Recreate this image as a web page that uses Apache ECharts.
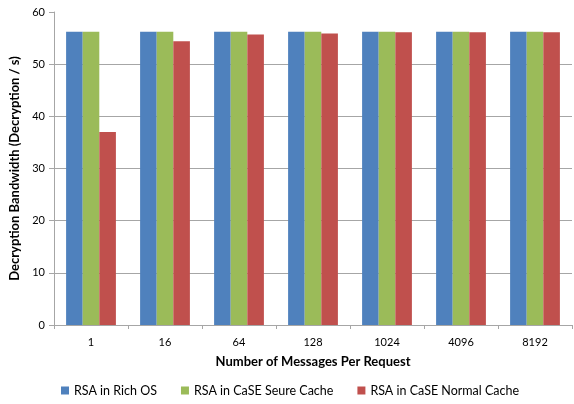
<!DOCTYPE html>
<html>
<head>
<meta charset="utf-8">
<script src="https://cdn.jsdelivr.net/npm/echarts@6/dist/echarts.min.js"></script>
<style>html,body{margin:0;padding:0;background:#fff;}#c{width:574px;height:404px;}</style>
</head>
<body>
<div id="c"></div>
<script>
const categories = ['1', '16', '64', '128', '1024', '4096', '8192'];
const richOS = [56.2, 56.2, 56.2, 56.2, 56.2, 56.2, 56.2];
const caseSecure = [56.2, 56.2, 56.2, 56.2, 56.2, 56.2, 56.2];
const caseNormal = [37.0, 54.4, 55.7, 55.9, 56.1, 56.1, 56.1];
const seriesNames = ['RSA in Rich OS', 'RSA in CaSE Seure Cache', 'RSA in CaSE Normal Cache'];
const yTicks = [0, 10, 20, 30, 40, 50, 60];

const font = 'Lato, "Open Sans", "Liberation Sans", sans-serif';
const chart = echarts.init(document.getElementById('c'));
const grid = '#a6a6a6';
chart.setOption({
  animation: false,
  textStyle: { fontFamily: font },
  grid: { left: 52, right: 2, top: 12, bottom: 79 },
  legend: {
    bottom: 2,
    left: 56,
    itemWidth: 8,
    itemHeight: 8,
    itemGap: 24,
    icon: 'rect',
    textStyle: { fontSize: 12.5, color: '#000', fontFamily: font },
    data: seriesNames
  },
  xAxis: {
    type: 'category',
    data: categories,
    name: 'Number of Messages Per Request',
    nameLocation: 'middle',
    nameGap: 30,
    nameTextStyle: { fontSize: 13, fontWeight: 'bold', color: '#000', fontFamily: font },
    axisLine: { lineStyle: { color: grid } },
    axisTick: { show: true, length: 4, lineStyle: { color: grid } },
    axisLabel: { fontSize: 11, color: '#000', margin: 12 }
  },
  yAxis: {
    type: 'value',
    min: 0,
    max: yTicks[yTicks.length - 1],
    interval: yTicks[1] - yTicks[0],
    name: 'Decryption Bandwidth (Decryption / s)',
    nameLocation: 'middle',
    nameGap: 33,
    nameTextStyle: { fontSize: 13, fontWeight: 'bold', color: '#000', fontFamily: font },
    axisLine: { show: true, lineStyle: { color: grid } },
    axisTick: { show: true, length: 5, lineStyle: { color: grid } },
    axisLabel: { fontSize: 11, color: '#000', margin: 9 },
    splitLine: { show: true, lineStyle: { color: [grid, grid, grid, grid, grid, grid, 'rgba(0,0,0,0)'], width: 1 } }
  },
  series: [
    { name: seriesNames[0], type: 'bar', data: richOS, barWidth: 16.6, barGap: '0%',
      itemStyle: { color: '#4F81BD' } },
    { name: seriesNames[1], type: 'bar', data: caseSecure, barWidth: 16.6, barGap: '0%',
      itemStyle: { color: '#9BBB59' } },
    { name: seriesNames[2], type: 'bar', data: caseNormal, barWidth: 16.6, barGap: '0%',
      itemStyle: { color: '#C0504D' } }
  ]
});
</script>
</body>
</html>
